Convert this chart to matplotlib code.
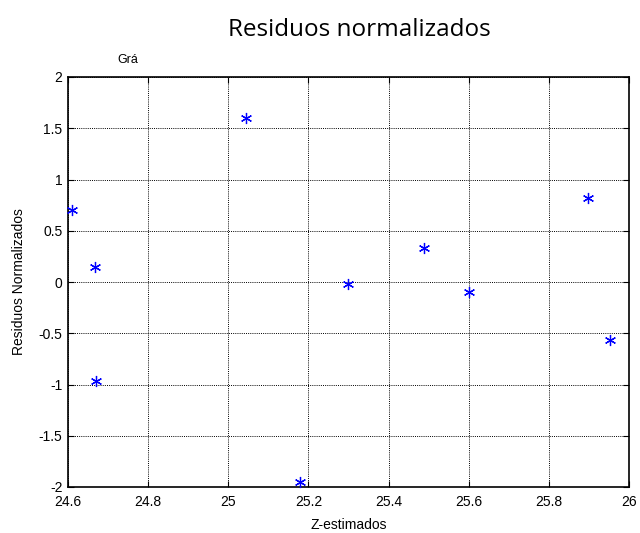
import matplotlib.pyplot as plt

# Z estimates and their normalized residuals
z_est = [24.61, 24.668, 24.67, 25.043, 25.18, 25.30, 25.488, 25.60, 25.898, 25.953]
residuos = [0.705, 0.145, -0.965, 1.597, -1.955, -0.015, 0.335, -0.095, 0.82, -0.565]

x_ticks = [24.6, 24.8, 25.0, 25.2, 25.4, 25.6, 25.8, 26.0]
x_labels = ['24.6', '24.8', '25', '25.2', '25.4', '25.6', '25.8', '26']
y_ticks = [-2, -1.5, -1, -0.5, 0, 0.5, 1, 1.5, 2]
y_labels = ['-2', '-1.5', '-1', '-0.5', '0', '0.5', '1', '1.5', '2']

plt.rcParams['font.family'] = ['Liberation Sans', 'DejaVu Sans']

fig = plt.figure(figsize=(6.4, 5.33), dpi=100)
ax = fig.add_axes([68 / 640, 1 - 487 / 533, (629 - 68) / 640, (487 - 77) / 533])

# asterisk markers
ax.plot(z_est, residuos, ls='none', marker=(6, 2, 0), color='blue', ms=8,
        markeredgewidth=0.9, clip_on=False, zorder=3)

ax.set_xlim(24.6, 26.0)
ax.set_ylim(-2, 2)
ax.set_xticks(x_ticks)
ax.set_xticklabels(x_labels)
ax.set_yticks(y_ticks)
ax.set_yticklabels(y_labels)
ax.tick_params(direction='in', top=True, right=True, length=4, width=0.8,
               labelsize=10, colors='black')
ax.tick_params(axis='x', pad=6)
ax.tick_params(axis='y', pad=4)
ax.grid(True, color='black', ls=(0, (1, 1.2)), lw=0.7)
for s in ax.spines.values():
    s.set_linewidth(1.2)

ax.set_xlabel('Z-estimados', fontsize=10, labelpad=6)
ax.set_ylabel('Residuos Normalizados', fontsize=10, labelpad=9)

fig.text(0.561, 1 - 30 / 533, 'Residuos normalizados', ha='center', va='center',
         fontsize=17.5, family=['Open Sans', 'DejaVu Sans'])
fig.text(117 / 640, 1 - 60 / 533, 'Grá', ha='left', va='center', fontsize=9)

fig.savefig('out.png', dpi=100)
